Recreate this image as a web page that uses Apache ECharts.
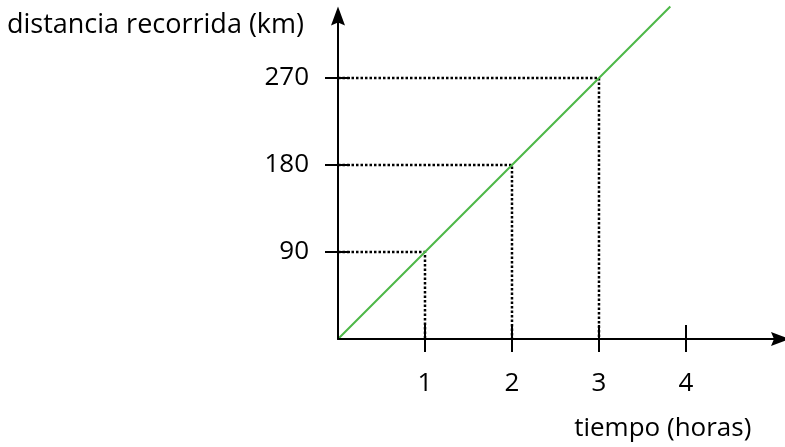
<!DOCTYPE html>
<html>
<head>
<meta charset="utf-8">
<script src="https://cdn.jsdelivr.net/npm/echarts@6/dist/echarts.min.js"></script>
<style>
  html, body { margin: 0; padding: 0; background: #ffffff; }
  #chart { width: 785px; height: 447px; }
</style>
</head>
<body>
<div id="chart"></div>
<script>
// Distance travelled at a constant 90 km/h
const hours = [0, 1, 2, 3, 3.82];
const distanceKm = [0, 90, 180, 270, 344];
const hourTicks = [1, 2, 3, 4];
const kmTicks = [90, 180, 270];
const guidePoints = [[1, 90], [2, 180], [3, 270]];
const xAxisTitle = 'tiempo (horas)';
const yAxisTitle = 'distancia recorrida (km)';

const FONT = '"Open Sans", "Noto Sans", sans-serif';
const INK = '#000000';
const X_MAX = 5.098;
const Y_MAX = 335.17;

// Solid arrow head with a shallow notch, pointing along the axis
const ARROW = 'path://M7,0 L14,19 L7,16 L0,19 Z';

const chart = echarts.init(document.getElementById('chart'), null, { renderer: 'canvas' });

// Two overlapping axes per direction: one draws the outer half of each tick,
// the other the inner half, so the ticks cross the axis line.
function xAxisBase(extra) {
  return Object.assign({
    type: 'value', min: 0, max: X_MAX, position: 'bottom', z: 5,
    splitLine: { show: false },
    axisTick: { show: true, customValues: hourTicks, length: 13, lineStyle: { color: INK, width: 2 } }
  }, extra);
}
function yAxisBase(extra) {
  return Object.assign({
    type: 'value', min: 0, max: Y_MAX, position: 'left', z: 5,
    splitLine: { show: false },
    axisTick: { show: true, customValues: kmTicks, length: 13, lineStyle: { color: INK, width: 2 } }
  }, extra);
}

const arrowLine = {
  show: true, onZero: false,
  symbol: ['none', ARROW], symbolSize: [14, 19], symbolOffset: [0, -1],
  lineStyle: { color: INK, width: 2 }
};

const guideSeries = guidePoints.map(([h, km]) => ({
  type: 'line',
  data: [[0, km], [h, km], [h, 0]],
  symbol: 'none',
  silent: true,
  z: 1,
  lineStyle: { color: INK, width: 2.5, type: [2.5, 2], cap: 'butt' }
}));

chart.setOption({
  animation: false,
  backgroundColor: '#ffffff',
  grid: {
    left: 338, right: 3.5, top: 15, bottom: 108,
    containLabel: false, outerBoundsMode: 'none'
  },
  xAxis: [
    xAxisBase({
      axisLine: arrowLine,
      axisLabel: {
        show: true, customValues: hourTicks, margin: 32,
        color: INK, fontFamily: FONT, fontSize: 26
      },
      name: xAxisTitle,
      nameLocation: 'middle',
      nameGap: 75,
      nameTextStyle: {
        color: INK, fontFamily: FONT, fontSize: 26,
        align: 'center', verticalAlign: 'top', lineHeight: 30,
        padding: [0, 0, 0, 206]
      }
    }),
    xAxisBase({
      axisLine: { show: false },
      axisLabel: { show: false },
      axisTick: { show: true, inside: true, customValues: hourTicks, length: 14, lineStyle: { color: INK, width: 2 } }
    })
  ],
  yAxis: [
    yAxisBase({
      axisLine: arrowLine,
      axisLabel: {
        show: true, customValues: kmTicks, margin: 29,
        color: INK, fontFamily: FONT, fontSize: 26
      },
      name: yAxisTitle,
      nameLocation: 'end',
      nameGap: -10,
      nameTextStyle: {
        color: INK, fontFamily: FONT, fontSize: 27,
        align: 'right', verticalAlign: 'middle',
        padding: [0, 34, 0, 0]
      }
    }),
    yAxisBase({
      axisLine: { show: false },
      axisLabel: { show: false },
      axisTick: { show: true, inside: true, customValues: kmTicks, length: 12, lineStyle: { color: INK, width: 2 } }
    })
  ],
  series: guideSeries.concat([{
    type: 'line',
    data: hours.map((h, i) => [h, distanceKm[i]]),
    symbol: 'none',
    clip: false,
    z: 3,
    lineStyle: { color: '#4db848', width: 2 }
  }])
});
</script>
</body>
</html>
